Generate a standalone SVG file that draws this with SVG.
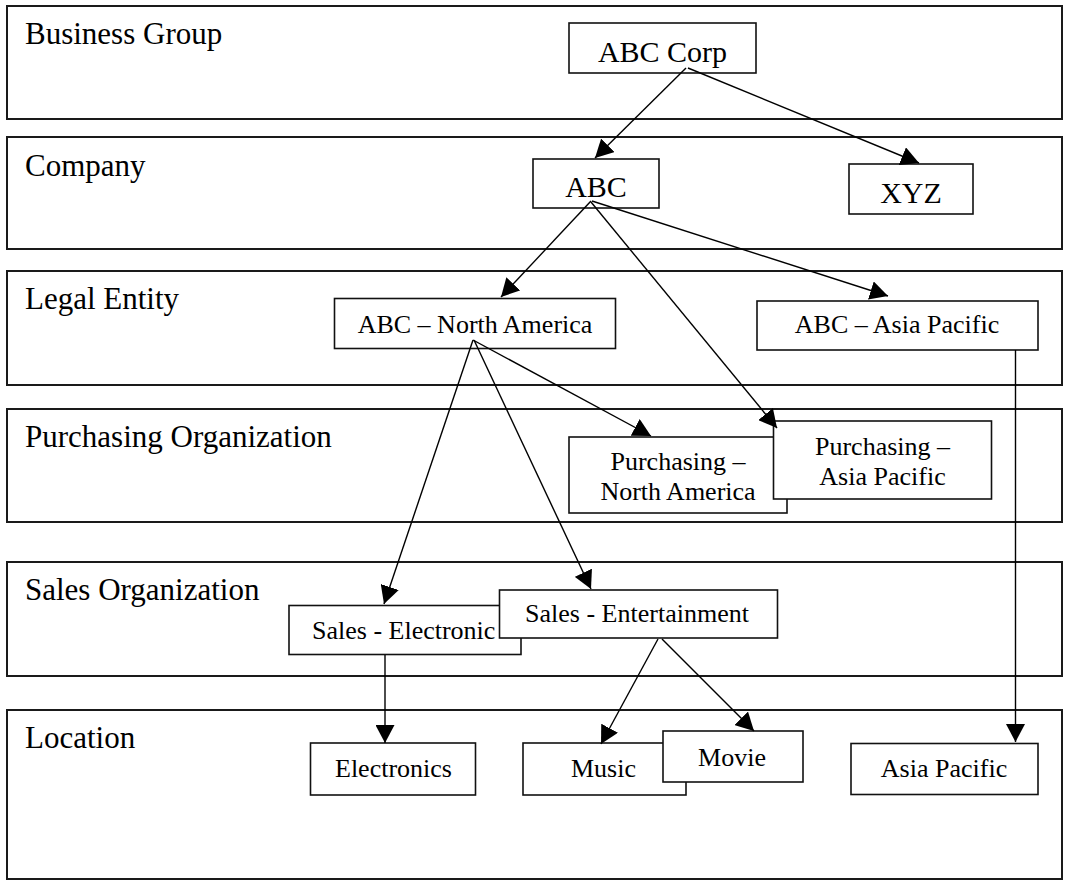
<svg xmlns="http://www.w3.org/2000/svg" width="1070" height="892" viewBox="0 0 1070 892">
<style>
.band{fill:none;stroke:#1a1a1a;stroke-width:2}
.lbl{font-family:"Liberation Serif","Times New Roman",serif;font-size:31px;fill:#000}
.box{fill:#fff;stroke:#111;stroke-width:1.6}
.t{font-family:"Liberation Serif","Times New Roman",serif;font-size:26px;fill:#000;text-anchor:middle}
.t30{font-size:30px}
.c{fill:none;stroke:#000;stroke-width:1.4;marker-end:url(#ah)}
</style>
<defs>
<marker id="ah" markerUnits="userSpaceOnUse" viewBox="0 0 18 19" refX="18" refY="9.5" markerWidth="18" markerHeight="19" orient="auto">
<path d="M0,0 L18,9.5 L0,19 z" fill="#000"/>
</marker>
</defs>
<rect x="0" y="0" width="1070" height="892" fill="#fff"/>
<g id="bands">
<g id="band-business-group"><rect class="band" x="7" y="6" width="1055" height="113"/><text class="lbl" x="25" y="44">Business Group</text></g>
<g id="band-company"><rect class="band" x="7" y="137" width="1055" height="112"/><text class="lbl" x="25" y="176">Company</text></g>
<g id="band-legal-entity"><rect class="band" x="7" y="271" width="1055" height="114"/><text class="lbl" x="25" y="309">Legal Entity</text></g>
<g id="band-purchasing-org"><rect class="band" x="7" y="409" width="1055" height="113"/><text class="lbl" x="25" y="447">Purchasing Organization</text></g>
<g id="band-sales-org"><rect class="band" x="7" y="562" width="1055" height="114"/><text class="lbl" x="25" y="600">Sales Organization</text></g>
<g id="band-location"><rect class="band" x="7" y="710" width="1055" height="169"/><text class="lbl" x="25" y="748">Location</text></g>
</g>
<g id="n-abc-corp"><rect class="box" x="569" y="23" width="187" height="50"/><text class="t t30" x="662.5" y="62">ABC Corp</text></g>
<g id="n-abc"><rect class="box" x="533" y="159" width="126" height="49"/><text class="t t30" x="596" y="197">ABC</text></g>
<g id="n-xyz"><rect class="box" x="849" y="164" width="124" height="50"/><text class="t t30" x="911" y="203">XYZ</text></g>
<g id="n-abc-na"><rect class="box" x="334.5" y="298.5" width="281" height="50"/><text class="t" x="475" y="333">ABC – North America</text></g>
<g id="n-abc-ap"><rect class="box" x="757" y="301" width="281" height="49"/><text class="t" x="897" y="333">ABC – Asia Pacific</text></g>
<g id="n-purch-na"><rect class="box" x="569" y="437" width="218" height="76"/><text class="t" x="678" y="470">Purchasing –</text><text class="t" x="678" y="500">North America</text></g>
<g id="n-purch-ap"><rect class="box" x="773.5" y="421" width="218" height="78"/><text class="t" x="882.5" y="455">Purchasing –</text><text class="t" x="882.5" y="485">Asia Pacific</text></g>
<g id="n-sales-elec"><rect class="box" x="289" y="605.5" width="232" height="49"/><text class="t" style="text-anchor:start" x="312" y="639">Sales - Electronic</text></g>
<g id="n-sales-ent"><rect class="box" x="499.5" y="590" width="278" height="48"/><text class="t" x="637" y="622">Sales - Entertainment</text></g>
<g id="n-electronics"><rect class="box" x="310.5" y="743" width="165" height="52"/><text class="t" x="393.5" y="777">Electronics</text></g>
<g id="n-music"><rect class="box" x="523" y="743" width="163" height="52"/><text class="t" x="603.5" y="777">Music</text></g>
<g id="n-movie"><rect class="box" x="663" y="731" width="140" height="51"/><text class="t" x="732" y="766">Movie</text></g>
<g id="n-asia-pacific"><rect class="box" x="851" y="743.5" width="187" height="51"/><text class="t" x="944" y="777">Asia Pacific</text></g>
<g id="connectors">
<line class="c" x1="686" y1="68" x2="595" y2="158"/>
<line class="c" x1="688" y1="68" x2="919" y2="163"/>
<line class="c" x1="591" y1="201" x2="501" y2="297"/>
<line class="c" x1="592" y1="201" x2="888" y2="296"/>
<line class="c" x1="591" y1="202" x2="777" y2="428"/>
<line class="c" x1="473" y1="340" x2="651" y2="436"/>
<line class="c" x1="473" y1="340" x2="384" y2="604"/>
<line class="c" x1="474" y1="340" x2="591" y2="589"/>
<line class="c" x1="1015.5" y1="350" x2="1015.5" y2="742"/>
<line class="c" x1="385" y1="655" x2="385" y2="743"/>
<line class="c" x1="658" y1="639" x2="601" y2="744"/>
<line class="c" x1="662" y1="639" x2="754" y2="731"/>
</g>
</svg>
